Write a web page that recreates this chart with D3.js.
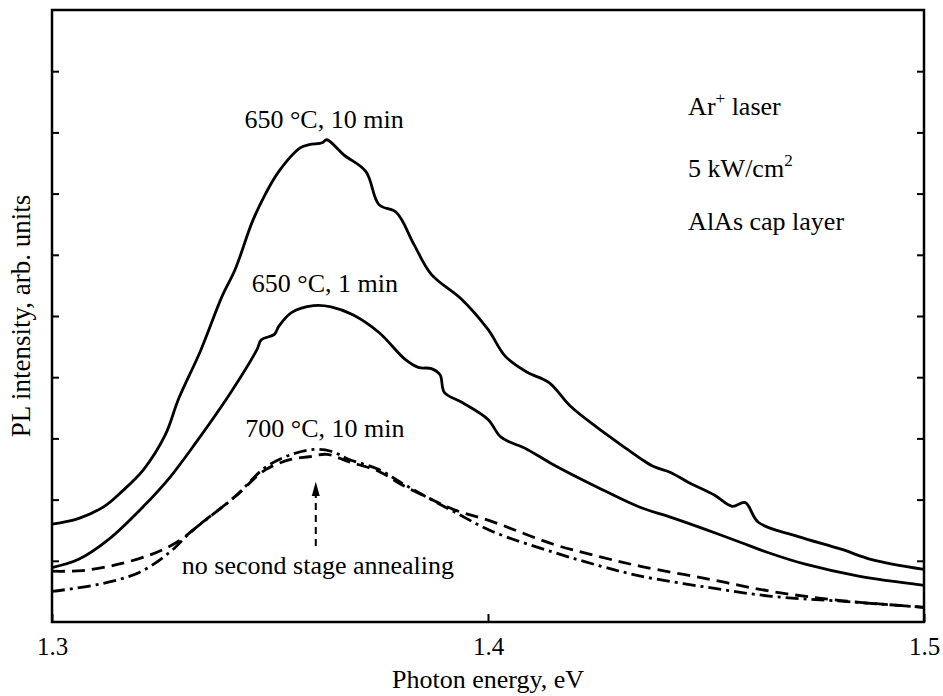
<!DOCTYPE html>
<html>
<head>
<meta charset="utf-8">
<script src="https://cdn.jsdelivr.net/npm/d3@7"></script>
<style>
  body { margin: 0; background: #fff; }
  text { font-family: "Liberation Serif", "Times New Roman", serif; fill: #000; }
</style>
</head>
<body>
<div id="chart"></div>
<script>
// 650 °C, 10 min
const energyA = [1.300, 1.306, 1.312, 1.316, 1.321, 1.326, 1.329, 1.334, 1.339, 1.342, 1.346, 1.349, 1.352, 1.357, 1.359, 1.362, 1.363,
  1.367, 1.372, 1.375, 1.379, 1.383, 1.387, 1.394, 1.400, 1.404, 1.409, 1.414, 1.419, 1.425, 1.432, 1.435, 1.438,
  1.442, 1.446, 1.452, 1.456, 1.459, 1.462, 1.471, 1.481, 1.488, 1.500];
const intensityA = [1.60, 1.69, 1.89, 2.13, 2.49, 3.06, 3.64, 4.42, 5.32, 5.76, 6.55, 7.00, 7.36, 7.75, 7.80, 7.83, 7.88,
  7.63, 7.36, 6.82, 6.69, 6.17, 5.68, 5.27, 4.78, 4.34, 4.08, 3.91, 3.52, 3.18, 2.82, 2.67, 2.54,
  2.44, 2.28, 2.07, 1.89, 1.95, 1.63, 1.40, 1.19, 1.02, 0.86];

// 650 °C, 1 min
const energyB = [1.300, 1.306, 1.313, 1.321, 1.327, 1.333, 1.341, 1.347, 1.348, 1.351, 1.352, 1.355, 1.360, 1.364, 1.369,
  1.375, 1.381, 1.384, 1.387, 1.389, 1.390, 1.394, 1.400, 1.403, 1.409, 1.415, 1.426, 1.435, 1.442, 1.450, 1.458,
  1.464, 1.473, 1.485, 1.500];
const intensityB = [0.89, 1.02, 1.35, 1.89, 2.36, 2.93, 3.75, 4.45, 4.61, 4.70, 4.83, 5.06, 5.17, 5.15, 5.02,
  4.73, 4.29, 4.16, 4.14, 4.04, 3.75, 3.59, 3.31, 3.02, 2.82, 2.57, 2.17, 1.87, 1.71, 1.51, 1.30,
  1.14, 0.94, 0.75, 0.60];

// 700 °C, 10 min (dashed)
const energyC = [1.300, 1.307, 1.315, 1.323, 1.329, 1.334, 1.342, 1.349, 1.355, 1.359, 1.363, 1.368, 1.375, 1.380,
  1.386, 1.392, 1.401, 1.415, 1.426, 1.435, 1.450, 1.465, 1.481, 1.500];
const intensityC = [0.83, 0.84, 0.94, 1.11, 1.32, 1.60, 2.05, 2.49, 2.66, 2.70, 2.74, 2.62, 2.46, 2.25,
  2.04, 1.84, 1.64, 1.27, 1.06, 0.91, 0.71, 0.50, 0.35, 0.24];

// no second stage annealing (dash-dot)
const energyD = [1.300, 1.311, 1.320, 1.327, 1.332, 1.342, 1.349, 1.355, 1.360, 1.364, 1.368, 1.375, 1.380, 1.386,
  1.392, 1.401, 1.415, 1.426, 1.435, 1.450, 1.465, 1.481, 1.500];
const intensityD = [0.50, 0.62, 0.81, 1.14, 1.48, 2.05, 2.53, 2.74, 2.82, 2.79, 2.66, 2.49, 2.28, 2.04,
  1.81, 1.48, 1.14, 0.91, 0.75, 0.57, 0.42, 0.34, 0.24];

const xTicks = [1.3, 1.4, 1.5];
const yTicks = [1, 2, 3, 4, 5, 6, 7, 8, 9];

const serif = '"Liberation Serif", "Times New Roman", serif';

const margin = {top: 10, right: 19, bottom: 74, left: 52},
      width = 943 - margin.left - margin.right,
      height = 696 - margin.top - margin.bottom;

const svg = d3.select('#chart').append('svg')
    .attr('width', 943)
    .attr('height', 696)
    .attr('font-family', serif)
  .append('g')
    .attr('transform', `translate(${margin.left}, ${margin.top})`);

const xScale = d3.scaleLinear().domain([1.3, 1.5]).range([0, width]);
const yScale = d3.scaleLinear().domain([0, 10]).range([height, 0]);

// axes, ticks pointing inward
const xAxis = svg.append('g')
    .attr('transform', `translate(0, ${height})`)
    .call(d3.axisBottom(xScale).tickValues(xTicks).tickSizeInner(-8).tickSizeOuter(0)
      .tickPadding(15).tickFormat(d3.format('.1f')));
xAxis.attr('font-family', serif);
xAxis.selectAll('text').style('font-size', '25px');

svg.append('g')
    .call(d3.axisLeft(yScale).tickValues(yTicks).tickSizeInner(-7).tickSizeOuter(0).tickFormat(''));
svg.append('g')
    .attr('transform', `translate(${width}, 0)`)
    .call(d3.axisRight(yScale).tickValues(yTicks).tickSizeInner(-7).tickSizeOuter(0).tickFormat(''));

svg.selectAll('.domain').remove();
svg.selectAll('.tick line').attr('stroke', '#000').attr('stroke-width', 2);

svg.append('rect')
    .attr('width', width)
    .attr('height', height)
    .attr('fill', 'none')
    .attr('stroke', '#000')
    .attr('stroke-width', 2.5);

// curves
const series = [
  {x: energyA, y: intensityA, dash: null},
  {x: energyB, y: intensityB, dash: null},
  {x: energyC, y: intensityC, dash: '13,7'},
  {x: energyD, y: intensityD, dash: '13,5,3,5'}
];

series.forEach(s => {
  const pts = s.x.map((e, i) => ({energy: e, value: s.y[i]}));
  svg.append('path')
      .datum(pts)
      .attr('fill', 'none')
      .attr('stroke', '#000')
      .attr('stroke-width', 2.8)
      .attr('stroke-linejoin', 'round')
      .attr('stroke-dasharray', s.dash)
      .attr('d', d3.line()
        .x(d => xScale(d.energy))
        .y(d => yScale(d.value))
        .curve(d3.curveCatmullRom.alpha(0.5)));
});

// dashed arrow
const arrowX = xScale(1.3605);
svg.append('line')
    .attr('x1', arrowX).attr('x2', arrowX)
    .attr('y1', yScale(1.24)).attr('y2', yScale(2.12))
    .attr('stroke', '#000')
    .attr('stroke-width', 2)
    .attr('stroke-dasharray', '7,5');
svg.append('path')
    .attr('d', `M${arrowX},${yScale(2.29)} L${arrowX - 4},${yScale(2.06)} L${arrowX + 4},${yScale(2.06)} Z`)
    .attr('fill', '#000');

// labels on the curves
const labels = [
  {t: '650 °C, 10 min', x: 1.3624, y: 8.07},
  {t: '650 °C, 1 min', x: 1.3626, y: 5.40},
  {t: '700 °C, 10 min', x: 1.3626, y: 3.03},
  {t: 'no second stage annealing', x: 1.361, y: 0.78}
];
labels.forEach(l => {
  svg.append('text')
      .attr('x', xScale(l.x))
      .attr('y', yScale(l.y))
      .attr('text-anchor', 'middle')
      .style('font-size', '26px')
      .text(l.t);
});

// conditions block
const noteX = xScale(1.4459);
const n1 = svg.append('text').attr('x', noteX).attr('y', yScale(8.28)).style('font-size', '26px');
n1.append('tspan').text('Ar');
n1.append('tspan').attr('dy', -11).style('font-size', '17px').text('+');
n1.append('tspan').attr('dy', 11).text(' laser');

const n2 = svg.append('text').attr('x', noteX).attr('y', yScale(7.27)).style('font-size', '26px');
n2.append('tspan').text('5 kW/cm');
n2.append('tspan').attr('dy', -11).style('font-size', '17px').text('2');

svg.append('text').attr('x', noteX).attr('y', yScale(6.41)).style('font-size', '26px').text('AlAs cap layer');

// axis titles
svg.append('text')
    .attr('x', width / 2)
    .attr('y', height + 66)
    .attr('text-anchor', 'middle')
    .style('font-size', '26px')
    .text('Photon energy, eV');

svg.append('text')
    .attr('transform', `translate(${30 - margin.left}, ${height / 2}) rotate(-90)`)
    .attr('text-anchor', 'middle')
    .style('font-size', '27px')
    .text('PL intensity, arb. units');
</script>
</body>
</html>
